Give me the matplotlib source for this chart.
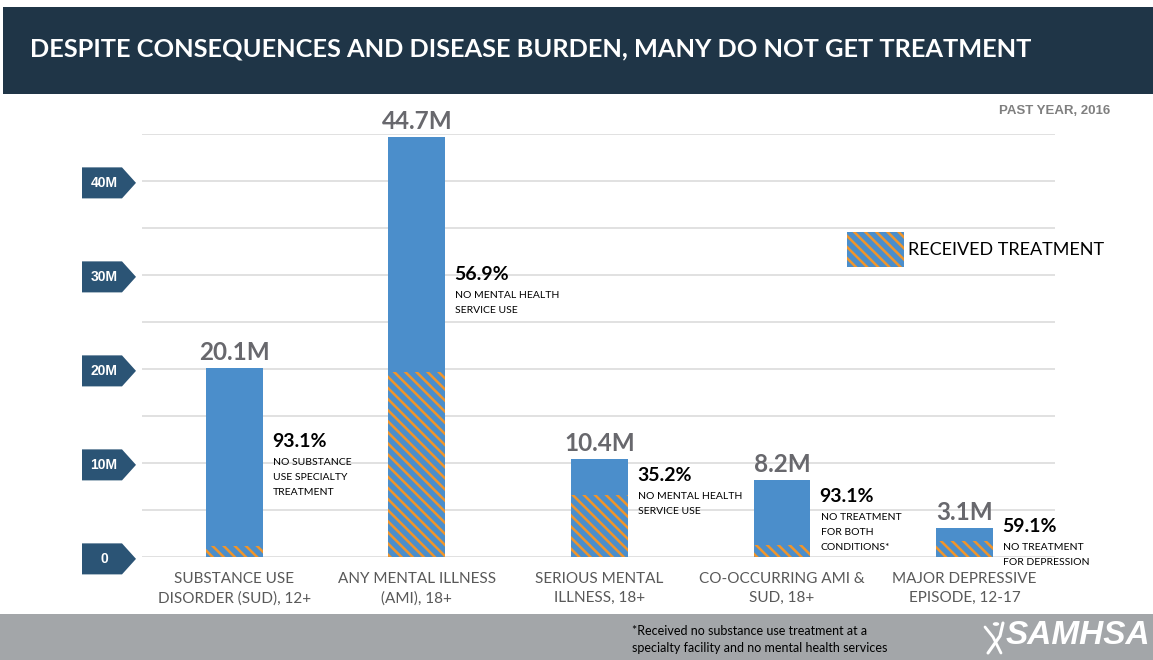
import matplotlib
matplotlib.use("Agg")
import matplotlib.pyplot as plt
from matplotlib.patches import Rectangle, Polygon, Circle
from matplotlib.lines import Line2D
from matplotlib.transforms import blended_transform_factory

# ---------------- data ----------------
categories = ["SUBSTANCE USE\nDISORDER (SUD), 12+",
              "ANY MENTAL ILLNESS\n(AMI), 18+",
              "SERIOUS MENTAL\nILLNESS, 18+",
              "CO-OCCURRING AMI &\nSUD, 18+",
              "MAJOR DEPRESSIVE\nEPISODE, 12-17"]
totals = [20.1, 44.7, 10.4, 8.2, 3.1]          # millions
treated = [1.2, 19.7, 6.6, 1.3, 1.7]           # millions (hatched part as drawn)
pct_labels = ["93.1%", "56.9%", "35.2%", "93.1%", "59.1%"]
pct_notes = [["NO SUBSTANCE", "USE SPECIALTY", "TREATMENT"],
             ["NO MENTAL HEALTH", "SERVICE USE"],
             ["NO MENTAL HEALTH", "SERVICE USE"],
             ["NO TREATMENT", "FOR BOTH", "CONDITIONS*"],
             ["NO TREATMENT", "FOR DEPRESSION"]]
yticks = [0, 10, 20, 30, 40]
ytick_labels = ["0", "10M", "20M", "30M", "40M"]

# layout (not data): vertical placement of the percent labels, in axis units
pct_y = [12.3, 30.1, 8.7, 6.4, 3.2]

BLUE = "#4b8ecb"
ORANGE = "#f0952b"
NAVY = "#1f3547"
TICKBOX = "#2b5475"
HATCH = "\\\\\\"

plt.rcParams["hatch.linewidth"] = 1.8

W, H = 1153, 660
fig = plt.figure(figsize=(W / 100, H / 100), dpi=100)
fig.patch.set_facecolor("white")

def fx(px):
    return px / W

def fy(py):
    return 1 - py / H

# title band
fig.patches.append(Rectangle((fx(3), fy(94)), 1 - fx(3), fy(7) - fy(94),
                             transform=fig.transFigure, facecolor=NAVY,
                             edgecolor="none", zorder=0))
fig.text(fx(30), fy(49), "DESPITE CONSEQUENCES AND DISEASE BURDEN, MANY DO NOT GET TREATMENT",
         color="white", fontsize=18.3, fontweight="bold", family="Lato",
         ha="left", va="center")

# footer band
fig.patches.append(Rectangle((0, 0), 1, fy(614), transform=fig.transFigure,
                             facecolor="#a3a6a9", edgecolor="none", zorder=0))
fig.text(fx(632), fy(631), "*Received no substance use treatment at a",
         color="black", fontsize=9, family="Lato", ha="left", va="center")
fig.text(fx(632), fy(648), "specialty facility and no mental health services",
         color="black", fontsize=9, family="Lato", ha="left", va="center")
fig.text(fx(1150), fy(635), "SAMHSA", color="white", fontsize=24,
         fontweight="bold", fontstyle="italic",
         family=["Liberation Sans Narrow", "Liberation Sans"],
         ha="right", va="center")
# simple stick-figure mark of the logo
fig.lines.append(Line2D([fx(988), fx(1000), fx(1003)], [fy(653), fy(636), fy(623)],
                        transform=fig.transFigure, color="white", lw=2.2,
                        solid_capstyle="round"))
fig.lines.append(Line2D([fx(985), fx(993), fx(1001)], [fy(627), fy(637), fy(653)],
                        transform=fig.transFigure, color="white", lw=2.0,
                        solid_capstyle="round"))
fig.patches.append(Circle((fx(996), fy(624)), 0.0028, transform=fig.transFigure,
                          facecolor="white", edgecolor="none"))

fig.text(fx(1110), fy(111), "PAST YEAR, 2016", color="#7f7f7f", fontsize=9.5,
         fontweight="bold", family="Liberation Sans", ha="right", va="center")

# ---------------- axes ----------------
ax = fig.add_axes([fx(142), fy(557), fx(1055) - fx(142), fy(134) - fy(557)])
ax.set_xlim(-0.505, 4.495)
ax.set_ylim(0, 45)
ax.set_facecolor("none")
for s in ax.spines.values():
    s.set_visible(False)
ax.set_xticks([])
ax.set_yticks([])
for g in range(0, 50, 5):
    ax.axhline(g, color="#d9d9d9", lw=1.1, zorder=0)

x = list(range(len(categories)))
bw = 0.312
ax.bar(x, totals, width=bw, color=BLUE, linewidth=0, zorder=2)
ax.bar(x, treated, width=bw, color=BLUE, edgecolor=ORANGE, hatch=HATCH,
       linewidth=0, zorder=3)

for i, t in enumerate(totals):
    ax.text(i, t + 0.45, f"{t}M", ha="center", va="bottom", fontsize=17.5,
            fontweight="bold", color="#68686d", family="Lato")
    xl = i + bw / 2 + 0.05
    ax.text(xl, pct_y[i], pct_labels[i], ha="left", va="center", fontsize=14,
            fontweight="bold", color="black", family="Lato")
    for k, line in enumerate(pct_notes[i]):
        ax.annotate(line, xy=(xl, pct_y[i]), xytext=(1, -21 - 15 * k),
                    textcoords="offset pixels", ha="left", va="center",
                    fontsize=7.5, color="black", family="Lato")
    ax.text(i, -1.6, categories[i], ha="center", va="top", fontsize=11,
            color="#595959", family="Lato", linespacing=1.45)

# legend
ax.add_patch(Rectangle((3.356, 30.85), 0.312, 3.75, facecolor=BLUE,
                       edgecolor=ORANGE, hatch=HATCH, linewidth=0, zorder=3))
ax.text(3.69, 32.7, "RECEIVED TREATMENT", ha="left", va="center",
        fontsize=13, color="black", family="Lato")

# arrow-shaped y tick labels
bt = blended_transform_factory(fig.transFigure, ax.transData)
hh = 1.65
for v, lab in zip(yticks, ytick_labels):
    yc = v - 0.2
    poly = Polygon([(fx(82), yc - hh), (fx(122), yc - hh), (fx(136), yc),
                    (fx(122), yc + hh), (fx(82), yc + hh)], closed=True,
                   transform=bt, facecolor=TICKBOX, edgecolor="none",
                   clip_on=False, zorder=5)
    ax.add_patch(poly)
    ax.text(fx(104), yc, lab, transform=bt, ha="center", va="center",
            color="white", fontsize=10, fontweight="bold",
            family=["Liberation Sans Narrow", "Liberation Sans"], zorder=6,
            clip_on=False)

fig.savefig("out.png", dpi=100, facecolor="white")
